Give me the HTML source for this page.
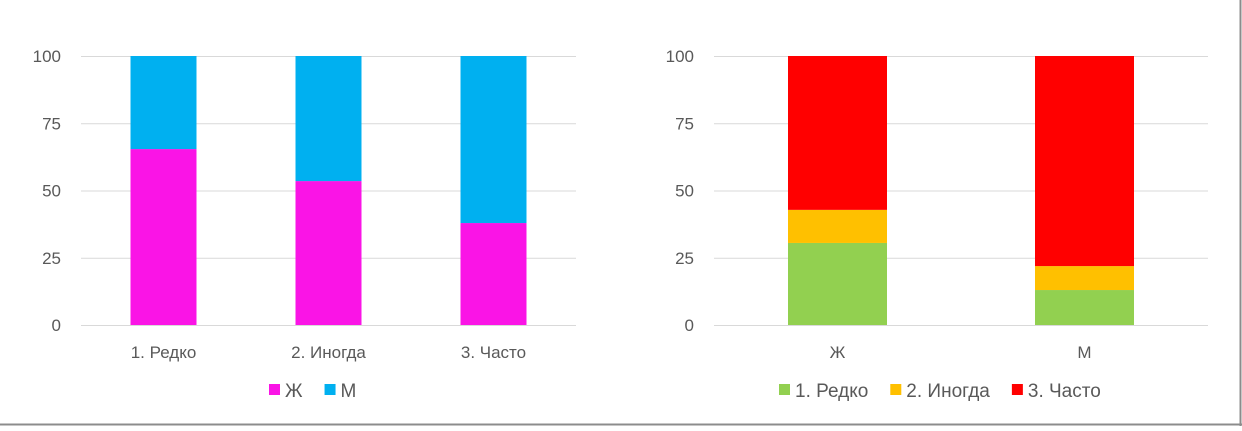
<!DOCTYPE html>
<html><head><meta charset="utf-8"><style>
html,body{margin:0;padding:0;background:#fff;}
svg text{font-family:"Liberation Sans","DejaVu Sans",sans-serif;fill:#595959;font-size:17px;}
svg text.leg{font-size:19px;}
</style></head><body>
<svg id="c" width="1242" height="426" xmlns="http://www.w3.org/2000/svg">
<rect x="0" y="0" width="1242" height="426" fill="#fff"/>
<line x1="0" y1="424.5" x2="1242" y2="424.5" stroke="#8c8c8c" stroke-width="2"/>
<line x1="1240.5" y1="0" x2="1240.5" y2="426" stroke="#8c8c8c" stroke-width="2"/>
</svg>
<script>
const ticks=[0,25,50,75,100];
const leftCats=["1. Редко","2. Иногда","3. Часто"];
const leftF=[65.4,53.5,37.9];
const leftM=[34.6,46.5,62.1];
const rightCats=["Ж","М"];
const rightRare=[30.5,13];
const rightSome=[12.3,8.9];
const rightOften=[57.2,78.1];
const svg=document.getElementById('c');
const NS="http://www.w3.org/2000/svg";
function mk(t,a,txt){const e=document.createElementNS(NS,t);for(const k in a)e.setAttribute(k,a[k]);if(txt!=null)e.textContent=txt;svg.appendChild(e);return e;}
const y0=325,y1=56;
function y(v){return y0-(y0-y1)*v/100;}
function chart(px0,px1,cats,series,colors,names,bw,prefix,legX){
  ticks.forEach(t=>{
    const l=mk('line',{x1:px0,x2:px1,y1:y(t)+0.5,y2:y(t)+0.5,stroke:'#d9d9d9','stroke-width':1});
    
    
    const tx=mk('text',{x:px0-20,y:y(t)+6,'text-anchor':'end'},String(t));
    
    
  });
  const step=(px1-px0)/cats.length;
  cats.forEach((c,i)=>{
    const cx=px0+step*(i+0.5);
    let acc=0;
    series.forEach((s,j)=>{
      const r=mk('rect',{x:cx-bw/2,y:y(acc+s[i]),width:bw,height:y(acc)-y(acc+s[i]),fill:colors[j]});
      
      
      acc+=s[i];
    });
    const t=mk('text',{x:cx,y:358,'text-anchor':'middle'},c);
    
    
  });
  let lx=legX;
  names.forEach((n,j)=>{
    const r=mk('rect',{x:lx,y:384,width:11,height:11,fill:colors[j]});
    
    
    const t=mk('text',{x:lx+16,y:397,'class':'leg'},n);
    
    
    lx+=16+t.getComputedTextLength()+22;
  });
}
chart(81,576,leftCats,[leftF,leftM],['#fa14e6','#00b0f0'],['Ж','М'],66,'left',269);
chart(714,1208,rightCats,[rightRare,rightSome,rightOften],['#92d050','#ffc000','#ff0000'],['1. Редко','2. Иногда','3. Часто'],99,'right',779);
</script>
</body></html>
